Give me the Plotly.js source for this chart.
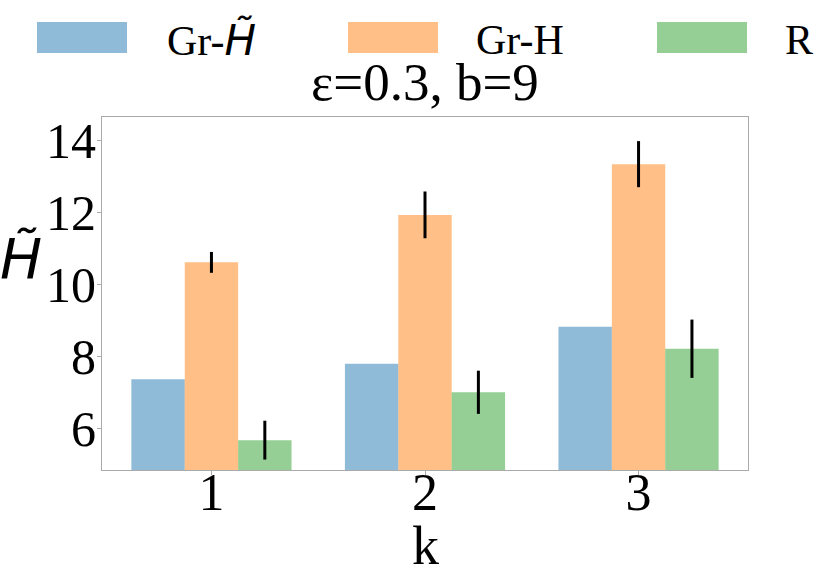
<!DOCTYPE html>
<html>
<head>
<meta charset="utf-8">
<script src="https://cdn.plot.ly/plotly-3.0.1.min.js"></script>
<style>
  html, body { margin: 0; padding: 0; background: #fff; }
  #chart { width: 830px; height: 576px; }
</style>
</head>
<body>
<div id="chart"></div>
<script>
const K = [1, 2, 3];
const SERIES = ['Gr-<i>H̃</i>', 'Gr-H', 'R'];
const GR_HT = [7.36, 7.79, 8.82];
const GR_H = [10.61, 11.93, 13.34];
const GR_H_ERR = [0.29, 0.65, 0.64];
const R_VAL = [5.67, 7.0, 8.21];
const R_ERR = [0.54, 0.6, 0.81];
const COLORS = ['rgba(31,119,180,0.5)', 'rgba(255,127,14,0.5)', 'rgba(44,160,44,0.5)'];

const serif = 'Liberation Serif';
const sans = 'DejaVu Sans';

// plot area in px, used only for placing the hand-made legend / labels
const L = 102, R = 748, T = 117, B = 470;
const px = x => (x - L) / (R - L);
const py = y => (B - y) / (B - T);

const errStyle = arr => ({ type: 'data', array: arr, visible: true, color: '#000', thickness: 3, width: 0 });

const traces = [
  { type: 'bar', x: K, y: GR_HT, marker: { color: COLORS[0] }, name: 'Gr-H~' },
  { type: 'bar', x: K, y: GR_H, marker: { color: COLORS[1] }, name: 'Gr-H', error_y: errStyle(GR_H_ERR) },
  { type: 'bar', x: K, y: R_VAL, marker: { color: COLORS[2] }, name: 'R', error_y: errStyle(R_ERR) },
];

const legendX = [[37, 127], [348, 438], [657, 747]];
const legendTextX = [165, 474, 783];

const shapes = legendX.map((p, i) => ({
  type: 'rect', xref: 'paper', yref: 'paper',
  x0: px(p[0]), x1: px(p[1]), y0: py(53), y1: py(22),
  fillcolor: COLORS[i], line: { width: 0 },
}));

const annotations = SERIES.map((s, i) => ({
  xref: 'paper', yref: 'paper', x: px(legendTextX[i]), y: py(40),
  xanchor: 'left', yanchor: 'middle', showarrow: false,
  text: i === 0 ? 'Gr-<span style="font-family:DejaVu Sans"><i>H̃</i></span>' : s,
  font: { family: serif, size: 42, color: '#000' },
}));

annotations.push({
  xref: 'paper', yref: 'paper', x: px(425), y: py(82),
  xanchor: 'center', yanchor: 'middle', showarrow: false,
  text: 'ε=0.3, b=9', font: { family: serif, size: 53, color: '#000' },
});
annotations.push({
  xref: 'paper', yref: 'paper', x: px(21), y: py(258),
  xanchor: 'center', yanchor: 'middle', showarrow: false,
  text: '<i>H̃</i>', font: { family: sans, size: 56, color: '#000' },
});
annotations.push({
  xref: 'paper', yref: 'paper', x: px(425), y: py(546),
  xanchor: 'center', yanchor: 'middle', showarrow: false,
  text: 'k', font: { family: serif, size: 54, color: '#000' },
});

Plotly.newPlot('chart', traces, {
  width: 830, height: 576,
  paper_bgcolor: '#fff', plot_bgcolor: '#fff',
  margin: { l: L, r: 830 - R, t: T, b: 576 - B },
  barmode: 'group', bargap: 0.25, bargroupgap: 0,
  showlegend: false,
  font: { family: serif, color: '#000' },
  xaxis: {
    range: [0.4875, 3.5125], tickvals: K, ticktext: K.map(String),
    tickfont: { family: serif, size: 52 },
    ticks: 'outside', ticklen: 4, tickcolor: '#aaa',
    ticklabelstandoff: -27,
    showline: true, mirror: true, linecolor: '#aaa', linewidth: 1,
    showgrid: false, zeroline: false,
  },
  yaxis: {
    range: [4.84, 14.65], tickvals: [6, 8, 10, 12, 14],
    tickfont: { family: serif, size: 50 },
    ticks: 'outside', ticklen: 4, tickcolor: '#aaa',
    ticklabelstandoff: -9,
    showline: true, mirror: true, linecolor: '#aaa', linewidth: 1,
    showgrid: false, zeroline: false,
  },
  shapes, annotations,
}, { displayModeBar: false, staticPlot: true });
</script>
</body>
</html>
